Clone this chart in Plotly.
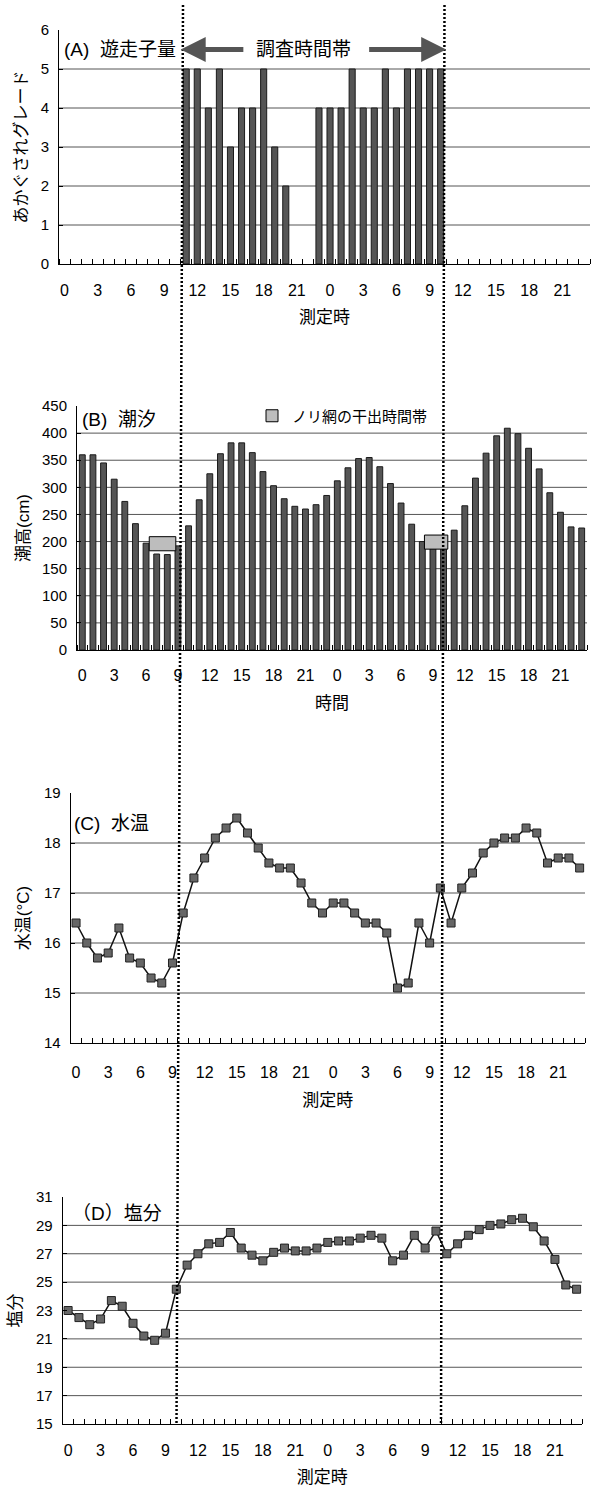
import plotly.graph_objects as go

W, H = 591, 1488

# ---------------- data ----------------
hour_of_day = list(range(24)) * 2          # two consecutive days, hourly
x_index = list(range(len(hour_of_day)))
tick_hours = [0, 3, 6, 9, 12, 15, 18, 21] * 2
tick_index = [i for i in x_index if hour_of_day[i] % 3 == 0]

# (A) zoospore amount (akagusare grade)
grade = [None] * 11 + [5, 5, 4, 5, 3, 4, 4, 5, 3, 2, None, None,
                       4, 4, 4, 5, 4, 4, 5, 4, 5, 5, 5, 5] + [None] * 13

# (B) tide level (cm)
tide_cm = [360, 360, 345, 315, 274, 233, 197, 177, 176, 192, 229, 277,
           325, 362, 382, 382, 364, 329, 303, 279, 265, 260, 268, 285,
           312, 336, 353, 355, 338, 307, 271, 232, 200, 188, 192, 221,
           266, 317, 363, 395, 409, 399, 372, 334, 290, 254, 227, 225]

# nori-net exposure periods (hour index start/end, tide band cm)
exposure_start = [6.3, 32.2]
exposure_end = [8.8, 34.4]
exposure_low = [183, 186]
exposure_high = [209, 212]

# (C) water temperature (deg C)
water_temp = [16.4, 16.0, 15.7, 15.8, 16.3, 15.7, 15.6, 15.3, 15.2, 15.6,
              16.6, 17.3, 17.7, 18.1, 18.3, 18.5, 18.2, 17.9, 17.6, 17.5,
              17.5, 17.2, 16.8, 16.6, 16.8, 16.8, 16.6, 16.4, 16.4, 16.2,
              15.1, 15.2, 16.4, 16.0, 17.1, 16.4, 17.1, 17.4, 17.8, 18.0,
              18.1, 18.1, 18.3, 18.2, 17.6, 17.7, 17.7, 17.5]

# (D) salinity
salinity = [23.0, 22.5, 22.0, 22.4, 23.7, 23.3, 22.1, 21.2, 20.9, 21.4,
            24.5, 26.2, 27.0, 27.7, 27.8, 28.5, 27.4, 26.9, 26.5, 27.1,
            27.4, 27.2, 27.2, 27.4, 27.8, 27.9, 27.9, 28.1, 28.3, 28.1,
            26.5, 26.9, 28.3, 27.4, 28.6, 27.0, 27.7, 28.3, 28.7, 29.0,
            29.1, 29.4, 29.5, 28.9, 27.9, 26.6, 24.8, 24.5]

survey_window = [10.5, 34.5]

# ---------------- helpers ----------------
def px(x):
    return x / W

def py(y):
    return 1 - y / H

FONT = "Liberation Sans, Noto Sans CJK JP, sans-serif"
BAR_FILL = "#555555"
EDGE = "#1a1a1a"

fig = go.Figure()

fig.add_trace(go.Bar(x=x_index, y=grade, width=0.55, xaxis="x", yaxis="y",
                     marker=dict(color=BAR_FILL, line=dict(color=EDGE, width=1)),
                     showlegend=False, name="あかぐされグレード"))
fig.add_trace(go.Bar(x=x_index, y=tide_cm, width=0.55, xaxis="x2", yaxis="y2",
                     marker=dict(color=BAR_FILL, line=dict(color=EDGE, width=1)),
                     showlegend=False, name="潮高"))
fig.add_trace(go.Bar(x=[(s + e) / 2 for s, e in zip(exposure_start, exposure_end)],
                     y=[h - l for l, h in zip(exposure_low, exposure_high)],
                     base=exposure_low,
                     width=[e - s for s, e in zip(exposure_start, exposure_end)],
                     xaxis="x2", yaxis="y2",
                     marker=dict(color="#bdbdbd", line=dict(color="#000", width=1)),
                     name="ノリ網の干出時間帯", showlegend=True))
for ax_id, vals, nm in [("3", water_temp, "水温"), ("4", salinity, "塩分")]:
    fig.add_trace(go.Scatter(x=x_index, y=vals, mode="lines+markers",
                             xaxis="x" + ax_id, yaxis="y" + ax_id,
                             line=dict(color="#111", width=1.5),
                             marker=dict(symbol="square", size=8, color="#666666",
                                         line=dict(color="#222", width=1)),
                             showlegend=False, name=nm))

# panel geometry in pixels: (left, right, top, bottom)
panels = {
    "": (59, 590, 30, 264),
    "2": (77, 587, 406, 650),
    "3": (70.7, 585, 793, 1043),
    "4": (62.7, 582, 1197, 1424),
}
yspecs = {
    "": dict(range=[0, 6], dtick=1, tick0=0, title="あかぐされグレード", standoff=8),
    "2": dict(range=[0, 450], dtick=50, tick0=0, title="潮高(cm)", standoff=8),
    "3": dict(range=[14, 19], dtick=1, tick0=14, title="水温(°C)", standoff=10),
    "4": dict(range=[15, 31], dtick=2, tick0=15, title="塩分", standoff=10),
}
xspecs = {
    "": dict(title="測定時", lab=12, tstd=12),
    "2": dict(title="時間", lab=11, tstd=13),
    "3": dict(title="測定時", lab=15, tstd=13),
    "4": dict(title="測定時", lab=12, tstd=12),
}

layout = dict(
    width=W, height=H, margin=dict(l=0, r=0, t=0, b=0),
    paper_bgcolor="white", plot_bgcolor="white",
    font=dict(family=FONT, color="#000", size=15),
    barmode="overlay",
    legend=dict(x=px(252), y=py(416), xanchor="left", yanchor="middle",
                bgcolor="rgba(0,0,0,0)", font=dict(size=15)),
)

shapes = []
for k, (l, r, t, b) in panels.items():
    ys = yspecs[k]
    xs = xspecs[k]
    layout["xaxis" + k] = dict(
        domain=[px(l), px(r)], anchor="y" + k, range=[-0.5, 47.5],
        tickmode="array", tickvals=tick_index, ticktext=[str(h) for h in tick_hours],
        ticks="", showline=True, linecolor="#000", linewidth=1,
        showgrid=False, zeroline=False, automargin=False,
        tickfont=dict(size=16), ticklabelstandoff=xs["lab"],
        minor=dict(ticks="inside", ticklen=5, tickcolor="#000", tickmode="linear",
                   tick0=0.5, dtick=1, showgrid=False),
        title=dict(text=xs["title"], font=dict(size=17), standoff=xs["tstd"]),
    )
    layout["yaxis" + k] = dict(
        domain=[py(b), py(t)], anchor="x" + k, range=ys["range"],
        tickmode="linear", tick0=ys["tick0"], dtick=ys["dtick"],
        ticks="inside", ticklen=4, tickcolor="#000",
        showline=True, linecolor="#000", linewidth=1,
        showgrid=False, zeroline=False, automargin=False,
        tickfont=dict(size=15), ticklabelstandoff=6,
        title=dict(text=ys["title"], font=dict(size=17), standoff=ys["standoff"]),
    )
    lo, hi = ys["range"]
    v = lo + ys["dtick"]
    while v < hi - 1e-9:
        shapes.append(dict(type="line", xref=("x" + k + " domain") if k else "x domain",
                           x0=0, x1=1, yref="y" + k, y0=v, y1=v,
                           line=dict(color="#555", width=1), layer="below"))
        v += ys["dtick"]

# dotted survey-window lines across the whole figure
for xt, xb in [(183, 176.5), (444.5, 441)]:
    shapes.append(dict(type="line", xref="paper", yref="paper",
                       x0=px(xt), x1=px(xb), y0=py(5), y1=py(1425),
                       line=dict(color="#000", width=2.5, dash="2px,2px")))
layout["shapes"] = shapes

annotations = []
for txt, x, y in [("(A)  遊走子量", 62, 49), ("(B)  潮汐", 80, 419),
                  ("(C)  水温", 72, 824), ("（D）塩分", 70, 1213)]:
    annotations.append(dict(text=txt, xref="paper", yref="paper", x=px(x), y=py(y),
                            xanchor="left", yanchor="middle", showarrow=False,
                            font=dict(size=19)))
annotations.append(dict(text="調査時間帯", xref="x", yref="y", x=21.6, y=5.5,
                        showarrow=False, font=dict(size=19)))
for tip, tail in [(survey_window[0], 16.3), (survey_window[1], 27.4)]:
    annotations.append(dict(text="", xref="x", yref="y", axref="x", ayref="y",
                            x=tip, y=5.5, ax=tail, ay=5.5, showarrow=True,
                            arrowhead=2, arrowsize=1, arrowwidth=5, arrowcolor="#555"))
layout["annotations"] = annotations

fig.update_layout(**layout)
fig.write_html("out.html", config={"displayModeBar": False},
               post_script="document.body.style.margin='0';document.body.style.overflow='hidden';")
